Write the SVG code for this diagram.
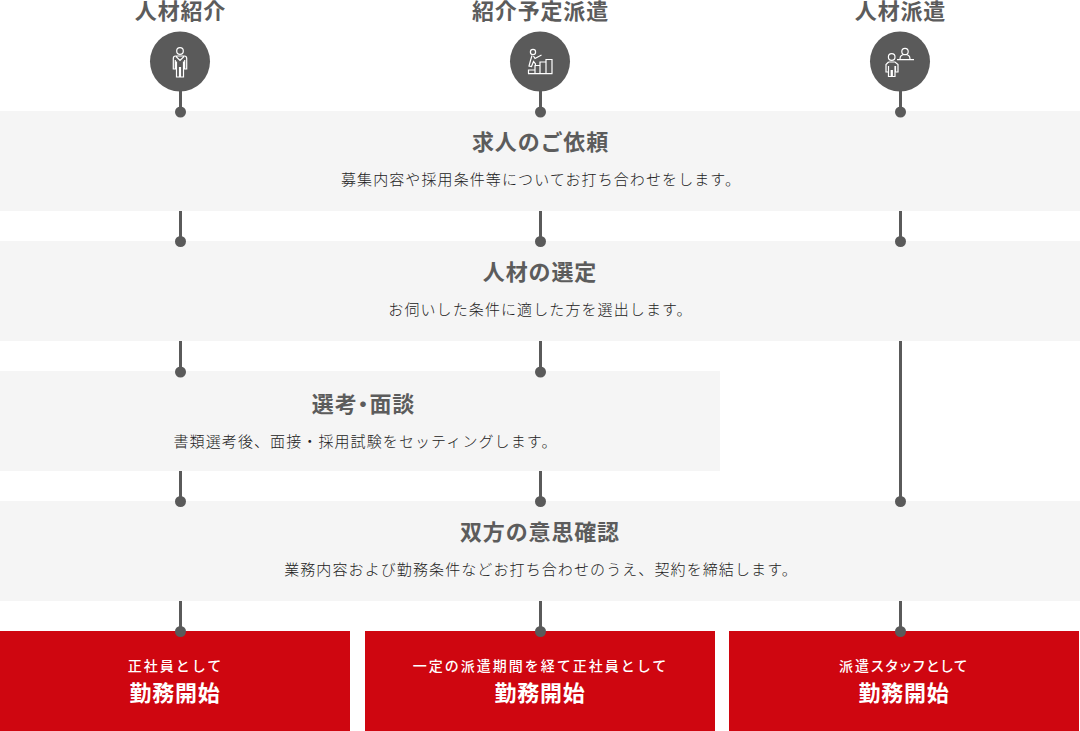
<svg xmlns="http://www.w3.org/2000/svg" width="1080" height="731" viewBox="0 0 1080 731">
<style>
text{font-family:"Noto Sans CJK JP","Noto Sans",sans-serif;text-anchor:middle}
.head{font-size:22px;font-weight:700;fill:#5c5c5c;letter-spacing:.85px}
.desc{font-size:15px;font-weight:300;fill:#222;letter-spacing:1.1px}
.sub{font-size:14px;font-weight:500;fill:#fff;letter-spacing:2px}
.big{font-size:22px;font-weight:700;fill:#fff;letter-spacing:.7px}
.band{fill:#f5f5f5}
.red{fill:#cf0610}
.line{stroke:#5a5a5a;stroke-width:3;fill:none}
.dot{fill:#5a5a5a}
.ic{fill:none;stroke:#fff;stroke-width:1.2}
.p{font-feature-settings:"palt"}
</style>
<g id="step-request"><rect class="band" x="0" y="111" width="1080" height="100"/><text class="head" x="540.500" y="150">求人のご依頼</text><text class="desc" x="541" y="185">募集内容や採用条件等についてお打ち合わせをします。</text></g>
<g id="step-select"><rect class="band" x="0" y="241" width="1080" height="100"/><text class="head" x="540" y="280">人材の選定</text><text class="desc" x="540.500" y="315">お伺いした条件に適した方を選出します。</text></g>
<g id="step-interview"><rect class="band" x="0" y="371" width="720" height="100"/><text class="head" x="363.500" y="412" style="font-feature-settings:'palt'">選考・面談</text><text class="desc" x="365.500" y="447">書類選考後、面接・採用試験をセッティングします。</text></g>
<g id="step-confirm"><rect class="band" x="0" y="501" width="1080" height="100"/><text class="head" x="540" y="540">双方の意思確認</text><text class="desc" x="541" y="575">業務内容および勤務条件などお打ち合わせのうえ、契約を締結します。</text></g>
<g id="result-1"><rect class="red" x="0" y="631" width="350" height="100"/><text class="sub" x="175.500" y="671">正社員として</text><text class="big" x="175" y="701">勤務開始</text></g>
<g id="result-2"><rect class="red" x="365" y="631" width="350" height="100"/><text class="sub" x="540.500" y="671">一定の派遣期間を経て正社員として</text><text class="big" x="540" y="701">勤務開始</text></g>
<g id="result-3"><rect class="red" x="729" y="631" width="350" height="100"/><text class="sub p" x="904" y="671">派遣スタッフとして</text><text class="big" x="904" y="701">勤務開始</text></g>
<g id="connectors">
<path class="line" d="M180.500 90V112M540.500 90V112M900.500 90V112M180.500 211V241M540.500 211V241M900.500 211V241M180.500 341V372M540.500 341V372M900.500 341V501M180.500 471V501M540.500 471V501M180.500 601V631M540.500 601V631M900.500 601V631"/>
<g class="dot"><circle cx="180.500" cy="112" r="5.500"/><circle cx="540.500" cy="112" r="5.500"/><circle cx="900.500" cy="112" r="5.500"/><circle cx="180.500" cy="241.500" r="5.500"/><circle cx="540.500" cy="241.500" r="5.500"/><circle cx="900.500" cy="241.500" r="5.500"/><circle cx="180.500" cy="372" r="5.500"/><circle cx="540.500" cy="372" r="5.500"/><circle cx="180.500" cy="501.500" r="5.500"/><circle cx="540.500" cy="501.500" r="5.500"/><circle cx="900.500" cy="501.500" r="5.500"/><circle cx="180.500" cy="631.500" r="5.500"/><circle cx="540.500" cy="631.500" r="5.500"/><circle cx="900.500" cy="631.500" r="5.500"/></g>
</g>
<g id="start-1"><text class="head" x="180.500" y="19">人材紹介</text><circle class="dot" cx="180" cy="61.500" r="30"/><g class="ic"><circle cx="180" cy="51" r="3.300"/><path d="M175.500 56h9c1.500 0 2.200 1 2.200 2.500V69h-2V60M175.300 60v9h-2V58.500c0-1.500.7-2.500 2.200-2.500M176 56.500l4 4 4-4M176.500 61.500V77h3V67M183.500 61.500V77h-3V67"/></g></g>
<g id="start-2"><text class="head" x="540.500" y="19">紹介予定派遣</text><circle class="dot" cx="540" cy="61.500" r="30"/><g class="ic"><circle cx="533" cy="52" r="2.600"/><path d="M532 55.500l-1.500 5-1.500 5.500 2.500.5 2-5 2 2.500-.5 3M533.500 56l1.500 2.500 6.500-3.500M528.500 73.700v-3.700h6.500v3.700M535 73.700V65.500h5v8.200M540 65.500V62h6M546 73.700V59.500h6v14.200M528 73.700h24.500"/></g></g>
<g id="start-3"><text class="head" x="900.500" y="19">人材派遣</text><circle class="dot" cx="900" cy="61.500" r="30"/><g class="ic"><circle cx="891.700" cy="57" r="3.300"/><path d="M888.500 62h6.500l3 2.500V72h-2.500V66M888.500 62l-2.500 2.500V72h2.500V66M888.500 66v10.500h2.700V70M895 66v10.500h-2.700V70"/><circle cx="905" cy="51.500" r="3.200"/><path d="M900 59c0-3 1.500-4.500 5-4.500s5 1.500 5 4.500M897 59.700h17"/></g></g>
</svg>
